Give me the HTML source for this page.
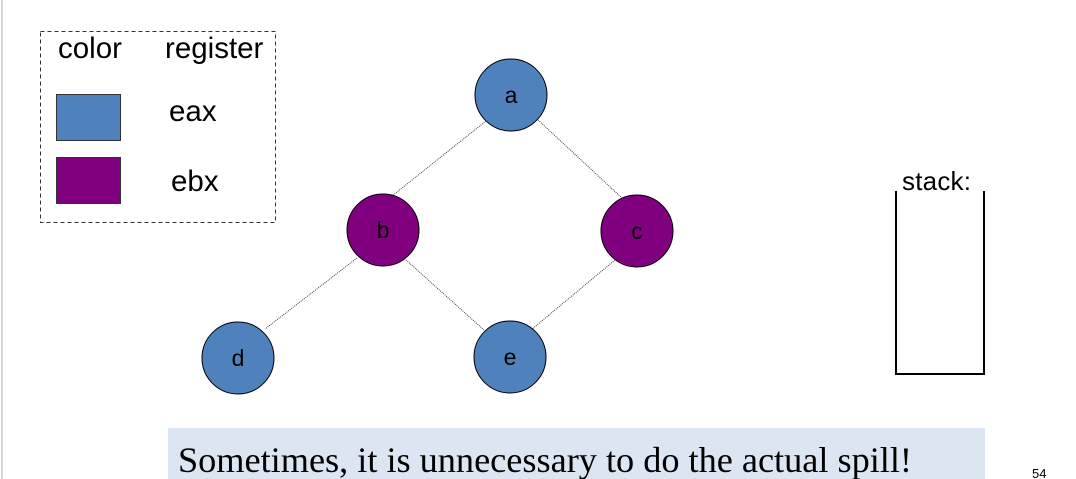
<!DOCTYPE html>
<html><head><meta charset="utf-8"><style>
body{margin:0;width:1076px;height:479px;overflow:hidden;background:#fff}
</style></head><body>
<svg width="1076" height="479" xmlns="http://www.w3.org/2000/svg" style="position:absolute;left:0;top:0">
<line x1="2" y1="0" x2="2" y2="479" stroke="#d8d8d8" stroke-width="2"/>
<rect x="40.5" y="31.5" width="235" height="191" fill="none" stroke="#333" stroke-dasharray="4,3"/>
<g font-family="Liberation Sans, sans-serif" font-size="29.5" fill="#000">
<text x="58" y="58">color</text>
<text x="165" y="58">register</text>
<text x="169" y="121">eax</text>
<text x="171" y="191">ebx</text>
</g>
<rect x="56.5" y="94.5" width="64" height="46" fill="#4f81bd" stroke="#333"/>
<rect x="56.5" y="157.5" width="64" height="46" fill="#800080" stroke="#333"/>
<g stroke="#444" stroke-width="1" stroke-dasharray="1,1">
<line x1="486" y1="121" x2="392" y2="196"/>
<line x1="538" y1="120" x2="622" y2="198"/>
<line x1="357" y1="258" x2="265" y2="329"/>
<line x1="406" y1="260" x2="484" y2="330"/>
<line x1="615" y1="260" x2="531" y2="330"/>
</g>
<g stroke="#000" stroke-width="1">
<circle cx="511" cy="95" r="36" fill="#4f81bd"/>
<circle cx="383" cy="230" r="36" fill="#800080"/>
<circle cx="637" cy="231" r="36" fill="#800080"/>
<circle cx="238" cy="358" r="36" fill="#4f81bd"/>
<circle cx="510" cy="357" r="36" fill="#4f81bd"/>
</g>
<g font-family="Liberation Sans, sans-serif" font-size="23" fill="#000" text-anchor="middle">
<text x="511" y="103">a</text>
<text x="383" y="238">b</text>
<text x="637" y="239">c</text>
<text x="238" y="366">d</text>
<text x="510" y="365">e</text>
</g>
<path d="M896,191 V374 H984 V191" fill="none" stroke="#000" stroke-width="2"/>
<text x="902" y="190" font-family="Liberation Sans, sans-serif" font-size="26" textLength="69">stack:</text>
<rect x="168" y="428" width="817" height="51" fill="#dce6f2"/>
<text x="178" y="472" font-family="Liberation Serif, serif" font-size="36.3" textLength="734">Sometimes, it is unnecessary to do the actual spill!</text>
<text x="1032" y="478" font-family="Liberation Sans, sans-serif" font-size="13">54</text>
</svg>
</body></html>
